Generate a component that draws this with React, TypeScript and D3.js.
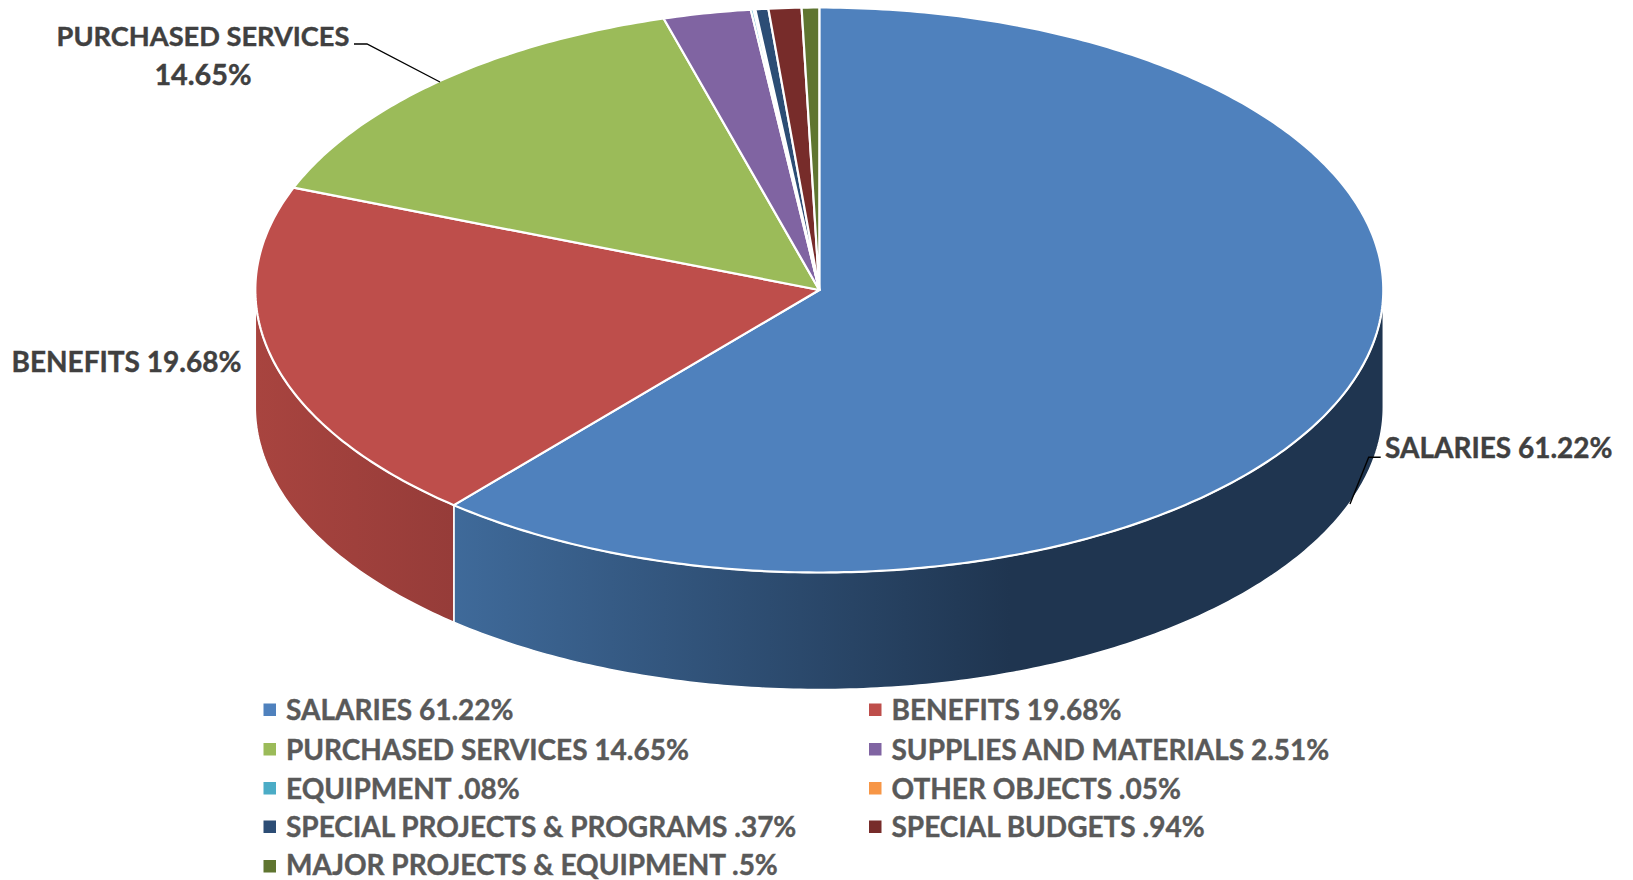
import React from "react";
import * as d3 from "d3";

const categories = ["SALARIES", "BENEFITS", "PURCHASED SERVICES", "SUPPLIES AND MATERIALS", "EQUIPMENT", "OTHER OBJECTS", "SPECIAL PROJECTS & PROGRAMS", "SPECIAL BUDGETS", "MAJOR PROJECTS & EQUIPMENT"];
const values = [61.22, 19.68, 14.65, 2.51, 0.08, 0.05, 0.37, 0.94, 0.5];
const valueLabels = ["61.22%", "19.68%", "14.65%", "2.51%", ".08%", ".05%", ".37%", ".94%", ".5%"];
const colors = ["#4f81bd", "#be4e4b", "#9bbb59", "#8064a2", "#4bacc6", "#f79646", "#2c4d75", "#772c2a", "#5f7530"];
const sideStops = [
  ["#3f6a9a", "#1f3550"],
  ["#a8443f", "#963c39"],
];

const cx = 819.3, cy = 290, rx = 564, ry = 282.5, depth = 117;
const FONT = "Lato, 'Open Sans', sans-serif";

const project = (t: number, dy = 0): [number, number] => [cx + rx * Math.sin(t), cy - ry * Math.cos(t) + dy];

const pie = d3.pie<number>().sort(null).startAngle(0).endAngle(2 * Math.PI);
const arcs = pie(values);

const sample = (a: number, b: number, dy = 0) => {
  const n = Math.max(2, Math.ceil((b - a) * 80));
  return d3.range(n + 1).map((i) => project(a + ((b - a) * i) / n, dy));
};
const line = d3.line();

function topPath(a: number, b: number) {
  return `M${cx},${cy}L${line(sample(a, b))!.slice(1)}Z`;
}
function sidePath(a: number, b: number) {
  const top = sample(a, b);
  const bottom = sample(a, b, depth).reverse();
  return `${line(top)}L${line(bottom)!.slice(1)}Z`;
}

const legendRows = [710, 749.5, 788.5, 827, 864.5];
const legendCols = [263.5, 869];

export default function App() {
  const front = arcs
    .map((d, i) => ({ i, a: Math.max(d.startAngle, Math.PI / 2), b: Math.min(d.endAngle, (3 * Math.PI) / 2) }))
    .filter((d) => d.b > d.a);
  const labelStyle = { fontFamily: FONT, fontWeight: 700, fontSize: 28, fill: "#404040", stroke: "#404040", strokeWidth: 0.4 };
  const legendStyle = { fontFamily: FONT, fontWeight: 700, fontSize: 28, fill: "#595959", stroke: "#595959", strokeWidth: 0.4 };
  return (
    <svg width={1633} height={880} style={{ position: "absolute", left: 0, top: 0, display: "block", background: "#fff" }}>
      <defs>
        {front.map((d, k) => {
          const x0 = project(d.b)[0];
          const x1 = k === 0 ? 1010 : project(d.a)[0];
          return (
            <linearGradient key={d.i} id={`side${d.i}`} gradientUnits="userSpaceOnUse" x1={x0} x2={x1} y1={0} y2={0}>
              <stop offset="0" stopColor={sideStops[k][0]} />
              <stop offset="1" stopColor={sideStops[k][1]} />
            </linearGradient>
          );
        })}
      </defs>
      {front.map((d) => (
        <path key={d.i} d={sidePath(d.a, d.b)} fill={`url(#side${d.i})`} stroke="#fff" strokeWidth={1.5} strokeLinejoin="round" />
      ))}
      {arcs.map((d, i) => (
        <path key={i} d={topPath(d.startAngle, d.endAngle)} fill={colors[i]} stroke="#fff" strokeWidth={2.2} strokeLinejoin="round" />
      ))}
      <polyline points="354,44 367,44 440,82" fill="none" stroke="#000" strokeWidth={1.4} />
      <polyline points="1380.7,457.3 1368.7,457.3 1350,504" fill="none" stroke="#000" strokeWidth={1.4} />
      <text x={203} y={45.5} textAnchor="middle" style={{ ...labelStyle, fontSize: 27.2 }}>{categories[2]}</text>
      <text x={203} y={84.5} textAnchor="middle" style={{ ...labelStyle, fontSize: 28.8 }}>{valueLabels[2]}</text>
      <text x={11.5} y={372} style={labelStyle}>{`${categories[1]} ${valueLabels[1]}`}</text>
      <text x={1385} y={458} style={labelStyle}>{`${categories[0]} ${valueLabels[0]}`}</text>
      {categories.map((c, i) => {
        const col = i % 2;
        const y = legendRows[Math.floor(i / 2)];
        const x = legendCols[col];
        return (
          <g key={c}>
            <rect x={x} y={y - 6.5 + (i === 8 ? 2 : 0)} width={12.5} height={12.5} fill={colors[i]} />
            <text x={x + 22.5} y={y + 10.2} style={legendStyle}>{`${c} ${valueLabels[i]}`}</text>
          </g>
        );
      })}
    </svg>
  );
}
